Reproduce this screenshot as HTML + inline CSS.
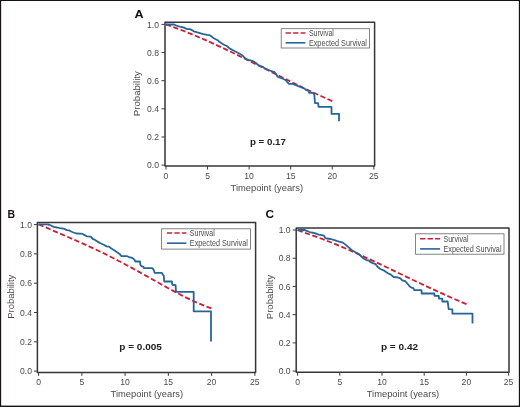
<!DOCTYPE html>
<html><head><meta charset="utf-8"><style>
html,body{margin:0;padding:0;background:#fff;overflow:hidden;}
svg{display:block;will-change:transform;}
text{font-family:"Liberation Sans", sans-serif;}
</style></head><body>
<svg width="520" height="407" viewBox="0 0 520 407">
<rect x="0" y="0" width="520" height="407" fill="#fff"/>
<rect x="165" y="22.2" width="209.60000000000002" height="143.8" fill="none" stroke="#363636" stroke-width="1.5" stroke-linejoin="round"/>
<line x1="161.5" y1="165.10" x2="165" y2="165.10" stroke="#3c3c3c" stroke-width="1"/>
<text x="159.0" y="168.20" text-anchor="end" font-size="8.6" fill="#4a4a4a">0.0</text>
<line x1="161.5" y1="136.96" x2="165" y2="136.96" stroke="#3c3c3c" stroke-width="1"/>
<text x="159.0" y="140.06" text-anchor="end" font-size="8.6" fill="#4a4a4a">0.2</text>
<line x1="161.5" y1="108.82" x2="165" y2="108.82" stroke="#3c3c3c" stroke-width="1"/>
<text x="159.0" y="111.92" text-anchor="end" font-size="8.6" fill="#4a4a4a">0.4</text>
<line x1="161.5" y1="80.68" x2="165" y2="80.68" stroke="#3c3c3c" stroke-width="1"/>
<text x="159.0" y="83.78" text-anchor="end" font-size="8.6" fill="#4a4a4a">0.6</text>
<line x1="161.5" y1="52.54" x2="165" y2="52.54" stroke="#3c3c3c" stroke-width="1"/>
<text x="159.0" y="55.64" text-anchor="end" font-size="8.6" fill="#4a4a4a">0.8</text>
<line x1="161.5" y1="24.40" x2="165" y2="24.40" stroke="#3c3c3c" stroke-width="1"/>
<text x="159.0" y="27.50" text-anchor="end" font-size="8.6" fill="#4a4a4a">1.0</text>
<line x1="166.00" y1="166" x2="166.00" y2="169.5" stroke="#3c3c3c" stroke-width="1"/>
<text x="166.00" y="178.6" text-anchor="middle" font-size="8.6" fill="#4a4a4a">0</text>
<line x1="207.56" y1="166" x2="207.56" y2="169.5" stroke="#3c3c3c" stroke-width="1"/>
<text x="207.56" y="178.6" text-anchor="middle" font-size="8.6" fill="#4a4a4a">5</text>
<line x1="249.12" y1="166" x2="249.12" y2="169.5" stroke="#3c3c3c" stroke-width="1"/>
<text x="249.12" y="178.6" text-anchor="middle" font-size="8.6" fill="#4a4a4a">10</text>
<line x1="290.68" y1="166" x2="290.68" y2="169.5" stroke="#3c3c3c" stroke-width="1"/>
<text x="290.68" y="178.6" text-anchor="middle" font-size="8.6" fill="#4a4a4a">15</text>
<line x1="332.24" y1="166" x2="332.24" y2="169.5" stroke="#3c3c3c" stroke-width="1"/>
<text x="332.24" y="178.6" text-anchor="middle" font-size="8.6" fill="#4a4a4a">20</text>
<line x1="373.80" y1="166" x2="373.80" y2="169.5" stroke="#3c3c3c" stroke-width="1"/>
<text x="373.80" y="178.6" text-anchor="middle" font-size="8.6" fill="#4a4a4a">25</text>
<text x="230.6" y="191" font-size="9.3" fill="#4a4a4a" textLength="72.4" lengthAdjust="spacingAndGlyphs">Timepoint (years)</text>
<text transform="translate(140.3,116.2) rotate(-90)" x="0" y="0" font-size="9.3" fill="#4a4a4a" textLength="45.0" lengthAdjust="spacingAndGlyphs">Probability</text>
<text x="134.4" y="18" font-size="11" font-weight="bold" fill="#111" textLength="9.1" lengthAdjust="spacingAndGlyphs">A</text>
<text x="249.9" y="144.9" font-size="9.9" font-weight="bold" fill="#222" textLength="36.099999999999994" lengthAdjust="spacingAndGlyphs">p = 0.17</text>
<path d="M166.00,24.40 L172.93,26.92 L179.86,29.49 L186.79,32.19 L193.72,35.02 L200.65,37.96 L207.57,41.00 L214.50,44.14 L221.43,47.36 L228.36,50.65 L235.29,53.99 L242.22,57.39 L249.15,60.83 L256.08,64.29 L263.01,67.77 L269.94,71.25 L276.87,74.73 L283.80,78.20 L290.73,81.63 L297.65,85.04 L304.58,88.39 L311.51,91.68 L318.44,94.90 L325.37,98.05 L332.30,101.10" fill="none" stroke="#cc1f36" stroke-width="1.8" stroke-dasharray="5.3 2.437"/>
<polyline points="166,24.5 174.1,24.5 175.6,25.3 179.4,26.5 180.9,27 183.3,27.4 185.2,28.2 187.1,29.1 190,29.1 191.9,30.1 193.8,31.3 196.7,32.2 200.6,33.3 203.5,34.2 207.3,34.9 209.7,35.2 212.1,36.8 213.8,38.3 217.7,40.2 219.6,42.1 223.5,44.5 226.8,46 230.2,48.9 234,50.8 237.9,52.7 242.7,55.6 245.6,58.8 248.5,59.9 252.3,60.9 255.2,62.5 257.9,64.7 260.8,66.2 262.7,66.8 264.6,68.4 268.5,70 272.3,71.3 274.2,71.9 276.2,74.3 277.6,76.75 280,77.7 282.9,78.7 285.8,80.3 287.7,82.5 288.7,83.8 292.5,83.8 295.4,84.9 297.8,85.9 300.2,86.8 302.1,87.6 304.6,88.7 306.2,90.2 308.3,90.7 309.3,92.8 312.4,92.8 313.9,93.3 314.4,95.9 315,103.1 318.1,103.1 318.6,106.9 331.5,106.9 331.5,113.8 339,113.8 339,121.2" fill="none" stroke="#276599" stroke-width="1.8" stroke-linejoin="round"/>
<rect x="281.2" y="28.7" width="88.40" height="19.30" fill="#fff" stroke="#666" stroke-width="0.8"/>
<line x1="285.6" y1="33" x2="305.4" y2="33" stroke="#cc1f36" stroke-width="1.6" stroke-dasharray="5.3 2.2"/>
<line x1="285.6" y1="42.8" x2="305.4" y2="42.8" stroke="#276599" stroke-width="1.6"/>
<text x="308.9" y="35.90" font-size="8.2" fill="#4a4a4a" textLength="25" lengthAdjust="spacingAndGlyphs">Survival</text>
<text x="308.9" y="45.90" font-size="8.2" fill="#4a4a4a" textLength="58" lengthAdjust="spacingAndGlyphs">Expected Survival</text>
<rect x="37.4" y="222.6" width="218.2" height="149.79999999999998" fill="none" stroke="#363636" stroke-width="1.5" stroke-linejoin="round"/>
<line x1="33.9" y1="371.10" x2="37.4" y2="371.10" stroke="#3c3c3c" stroke-width="1"/>
<text x="32.0" y="374.20" text-anchor="end" font-size="8.6" fill="#4a4a4a">0.0</text>
<line x1="33.9" y1="341.80" x2="37.4" y2="341.80" stroke="#3c3c3c" stroke-width="1"/>
<text x="32.0" y="344.90" text-anchor="end" font-size="8.6" fill="#4a4a4a">0.2</text>
<line x1="33.9" y1="312.50" x2="37.4" y2="312.50" stroke="#3c3c3c" stroke-width="1"/>
<text x="32.0" y="315.60" text-anchor="end" font-size="8.6" fill="#4a4a4a">0.4</text>
<line x1="33.9" y1="283.20" x2="37.4" y2="283.20" stroke="#3c3c3c" stroke-width="1"/>
<text x="32.0" y="286.30" text-anchor="end" font-size="8.6" fill="#4a4a4a">0.6</text>
<line x1="33.9" y1="253.90" x2="37.4" y2="253.90" stroke="#3c3c3c" stroke-width="1"/>
<text x="32.0" y="257.00" text-anchor="end" font-size="8.6" fill="#4a4a4a">0.8</text>
<line x1="33.9" y1="224.60" x2="37.4" y2="224.60" stroke="#3c3c3c" stroke-width="1"/>
<text x="32.0" y="227.70" text-anchor="end" font-size="8.6" fill="#4a4a4a">1.0</text>
<line x1="38.60" y1="372.4" x2="38.60" y2="375.9" stroke="#3c3c3c" stroke-width="1"/>
<text x="38.60" y="384.8" text-anchor="middle" font-size="8.6" fill="#4a4a4a">0</text>
<line x1="81.85" y1="372.4" x2="81.85" y2="375.9" stroke="#3c3c3c" stroke-width="1"/>
<text x="81.85" y="384.8" text-anchor="middle" font-size="8.6" fill="#4a4a4a">5</text>
<line x1="125.10" y1="372.4" x2="125.10" y2="375.9" stroke="#3c3c3c" stroke-width="1"/>
<text x="125.10" y="384.8" text-anchor="middle" font-size="8.6" fill="#4a4a4a">10</text>
<line x1="168.35" y1="372.4" x2="168.35" y2="375.9" stroke="#3c3c3c" stroke-width="1"/>
<text x="168.35" y="384.8" text-anchor="middle" font-size="8.6" fill="#4a4a4a">15</text>
<line x1="211.60" y1="372.4" x2="211.60" y2="375.9" stroke="#3c3c3c" stroke-width="1"/>
<text x="211.60" y="384.8" text-anchor="middle" font-size="8.6" fill="#4a4a4a">20</text>
<line x1="254.85" y1="372.4" x2="254.85" y2="375.9" stroke="#3c3c3c" stroke-width="1"/>
<text x="254.85" y="384.8" text-anchor="middle" font-size="8.6" fill="#4a4a4a">25</text>
<text x="110.6" y="396.9" font-size="9.3" fill="#4a4a4a" textLength="72.5" lengthAdjust="spacingAndGlyphs">Timepoint (years)</text>
<text transform="translate(13.6,318.8) rotate(-90)" x="0" y="0" font-size="9.3" fill="#4a4a4a" textLength="44.10000000000002" lengthAdjust="spacingAndGlyphs">Probability</text>
<text x="7.6" y="218" font-size="11" font-weight="bold" fill="#111" textLength="7.6" lengthAdjust="spacingAndGlyphs">B</text>
<text x="119.3" y="350.3" font-size="9.9" font-weight="bold" fill="#222" textLength="42.60000000000001" lengthAdjust="spacingAndGlyphs">p = 0.005</text>
<path d="M38.60,224.40 L45.80,227.44 L53.01,230.57 L60.21,233.67 L67.42,236.77 L74.62,239.90 L81.83,243.09 L89.03,246.35 L96.23,249.72 L103.44,253.18 L110.64,256.76 L117.85,260.45 L125.05,264.25 L132.25,268.13 L139.46,272.10 L146.66,276.11 L153.87,280.16 L161.07,284.20 L168.28,288.19 L175.48,292.09 L182.68,295.85 L189.89,299.42 L197.09,302.74 L204.30,305.73 L211.50,308.34" fill="none" stroke="#cc1f36" stroke-width="1.8" stroke-dasharray="5.3 2.496"/>
<polyline points="38.6,224.3 47.6,224.3 49.5,224.8 51.9,226 53.8,226.9 57.2,227.5 60.1,228.2 63,228.5 64.9,229.1 66.8,230.1 69.2,230.4 71.1,231.5 73.5,232.5 76.4,233.5 80.3,233.7 82.7,233.9 85.1,235.4 86.9,236.3 90.8,236.6 92.7,238.9 94.6,239.7 97.5,241.6 100.4,243.3 104.2,245 106.6,246.4 109,246.6 111,248.3 113.8,250.1 116.7,252 119.6,253.9 121.5,256.2 127.3,256.2 130,257.5 131.9,257.7 133.5,258.8 134.6,259.8 135.4,261.5 140,261.5 140.4,265 141.5,266.2 143.5,266.8 143.8,268.1 152.3,268.1 153.5,269.6 154.2,271.2 154.6,272.9 161.9,272.9 162.7,274.5 163.8,275.8 164.2,281.5 171.9,281.5 172.25,284.75 175.6,285.25 176,291.9 193.7,291.9 193.7,311.35 211.0,311.35 211.0,341.4" fill="none" stroke="#276599" stroke-width="1.8" stroke-linejoin="round"/>
<rect x="161.6" y="228.8" width="88.90" height="20.30" fill="#fff" stroke="#666" stroke-width="0.8"/>
<line x1="166.9" y1="233" x2="186.4" y2="233" stroke="#cc1f36" stroke-width="1.6" stroke-dasharray="5.3 2.2"/>
<line x1="166.9" y1="243.2" x2="186.4" y2="243.2" stroke="#276599" stroke-width="1.6"/>
<text x="189.8" y="235.90" font-size="8.2" fill="#4a4a4a" textLength="25" lengthAdjust="spacingAndGlyphs">Survival</text>
<text x="189.8" y="246.30" font-size="8.2" fill="#4a4a4a" textLength="58" lengthAdjust="spacingAndGlyphs">Expected Survival</text>
<rect x="296.2" y="228" width="212.8" height="144.2" fill="none" stroke="#363636" stroke-width="1.5" stroke-linejoin="round"/>
<line x1="292.7" y1="371.10" x2="296.2" y2="371.10" stroke="#3c3c3c" stroke-width="1"/>
<text x="290.6" y="374.20" text-anchor="end" font-size="8.6" fill="#4a4a4a">0.0</text>
<line x1="292.7" y1="342.88" x2="296.2" y2="342.88" stroke="#3c3c3c" stroke-width="1"/>
<text x="290.6" y="345.98" text-anchor="end" font-size="8.6" fill="#4a4a4a">0.2</text>
<line x1="292.7" y1="314.66" x2="296.2" y2="314.66" stroke="#3c3c3c" stroke-width="1"/>
<text x="290.6" y="317.76" text-anchor="end" font-size="8.6" fill="#4a4a4a">0.4</text>
<line x1="292.7" y1="286.44" x2="296.2" y2="286.44" stroke="#3c3c3c" stroke-width="1"/>
<text x="290.6" y="289.54" text-anchor="end" font-size="8.6" fill="#4a4a4a">0.6</text>
<line x1="292.7" y1="258.22" x2="296.2" y2="258.22" stroke="#3c3c3c" stroke-width="1"/>
<text x="290.6" y="261.32" text-anchor="end" font-size="8.6" fill="#4a4a4a">0.8</text>
<line x1="292.7" y1="230.00" x2="296.2" y2="230.00" stroke="#3c3c3c" stroke-width="1"/>
<text x="290.6" y="233.10" text-anchor="end" font-size="8.6" fill="#4a4a4a">1.0</text>
<line x1="297.60" y1="372.2" x2="297.60" y2="375.7" stroke="#3c3c3c" stroke-width="1"/>
<text x="297.60" y="384.8" text-anchor="middle" font-size="8.6" fill="#4a4a4a">0</text>
<line x1="339.80" y1="372.2" x2="339.80" y2="375.7" stroke="#3c3c3c" stroke-width="1"/>
<text x="339.80" y="384.8" text-anchor="middle" font-size="8.6" fill="#4a4a4a">5</text>
<line x1="382.00" y1="372.2" x2="382.00" y2="375.7" stroke="#3c3c3c" stroke-width="1"/>
<text x="382.00" y="384.8" text-anchor="middle" font-size="8.6" fill="#4a4a4a">10</text>
<line x1="424.20" y1="372.2" x2="424.20" y2="375.7" stroke="#3c3c3c" stroke-width="1"/>
<text x="424.20" y="384.8" text-anchor="middle" font-size="8.6" fill="#4a4a4a">15</text>
<line x1="466.40" y1="372.2" x2="466.40" y2="375.7" stroke="#3c3c3c" stroke-width="1"/>
<text x="466.40" y="384.8" text-anchor="middle" font-size="8.6" fill="#4a4a4a">20</text>
<line x1="508.60" y1="372.2" x2="508.60" y2="375.7" stroke="#3c3c3c" stroke-width="1"/>
<text x="508.60" y="384.8" text-anchor="middle" font-size="8.6" fill="#4a4a4a">25</text>
<text x="366.7" y="397.3" font-size="9.3" fill="#4a4a4a" textLength="72.5" lengthAdjust="spacingAndGlyphs">Timepoint (years)</text>
<text transform="translate(273.0,319.2) rotate(-90)" x="0" y="0" font-size="9.3" fill="#4a4a4a" textLength="44.5" lengthAdjust="spacingAndGlyphs">Probability</text>
<text x="265.6" y="218" font-size="11" font-weight="bold" fill="#111" textLength="8.6" lengthAdjust="spacingAndGlyphs">C</text>
<text x="380.9" y="350.4" font-size="9.9" font-weight="bold" fill="#222" textLength="37.200000000000045" lengthAdjust="spacingAndGlyphs">p = 0.42</text>
<path d="M297.60,230.20 L304.64,232.67 L311.68,235.09 L318.71,237.64 L325.75,240.32 L332.79,243.13 L339.83,246.03 L346.86,249.04 L353.90,252.13 L360.94,255.29 L367.98,258.52 L375.01,261.80 L382.05,265.12 L389.09,268.47 L396.12,271.84 L403.16,275.21 L410.20,278.59 L417.24,281.95 L424.27,285.28 L431.31,288.58 L438.35,291.83 L445.39,295.02 L452.42,298.15 L459.46,301.19 L466.50,304.14" fill="none" stroke="#cc1f36" stroke-width="1.8" stroke-dasharray="5.3 2.491"/>
<polyline points="297.6,230 304.7,230 306.6,230.8 309.5,232 311.4,232.5 313.8,232.9 316.2,233.7 318.6,234.7 322,235.1 323.9,235.6 325.3,238 326.8,238.5 330.6,239 334.5,240.2 337.3,241.2 340.2,241.8 342.9,242.6 345.8,244.9 348.7,247.4 351.5,250 355.4,252.2 359.2,254.3 361.6,256.75 364,258.7 366.9,260.3 368.8,260.3 369.8,261.6 372.7,263.2 375.6,264.2 377.5,266.8 380.4,269 384.2,270.6 385,271.25 387.9,273.2 390.8,274.6 393.7,277 397.5,277.3 400.4,278.3 402.3,280.4 405.2,281.2 407.6,283.75 409.5,286.2 411.4,287.6 413.4,288.1 414.3,290.2 421.5,290.2 421.7,293.5 434.4,293.5 434.4,295.8 438.8,295.8 439,298.6 442.3,298.6 442.3,301.5 447.7,301.5 448.2,305.6 448.7,309.1 452.4,309.4 452.4,313.7 472.5,313.7 472.5,323.4" fill="none" stroke="#276599" stroke-width="1.8" stroke-linejoin="round"/>
<rect x="415.6" y="233.8" width="88.40" height="20.40" fill="#fff" stroke="#666" stroke-width="0.8"/>
<line x1="420.1" y1="238.7" x2="440.1" y2="238.7" stroke="#cc1f36" stroke-width="1.6" stroke-dasharray="5.3 2.2"/>
<line x1="420.1" y1="248.9" x2="440.1" y2="248.9" stroke="#276599" stroke-width="1.6"/>
<text x="443.5" y="241.60" font-size="8.2" fill="#4a4a4a" textLength="25" lengthAdjust="spacingAndGlyphs">Survival</text>
<text x="443.5" y="252.00" font-size="8.2" fill="#4a4a4a" textLength="58" lengthAdjust="spacingAndGlyphs">Expected Survival</text>
<rect x="0" y="0" width="520" height="1" fill="#161214"/>
<rect x="0" y="0" width="1.15" height="407" fill="#161214"/>
<rect x="518.85" y="0" width="1.15" height="407" fill="#161214"/>
<rect x="0" y="405.6" width="520" height="1.4" fill="#161214"/>
</svg>
</body></html>
